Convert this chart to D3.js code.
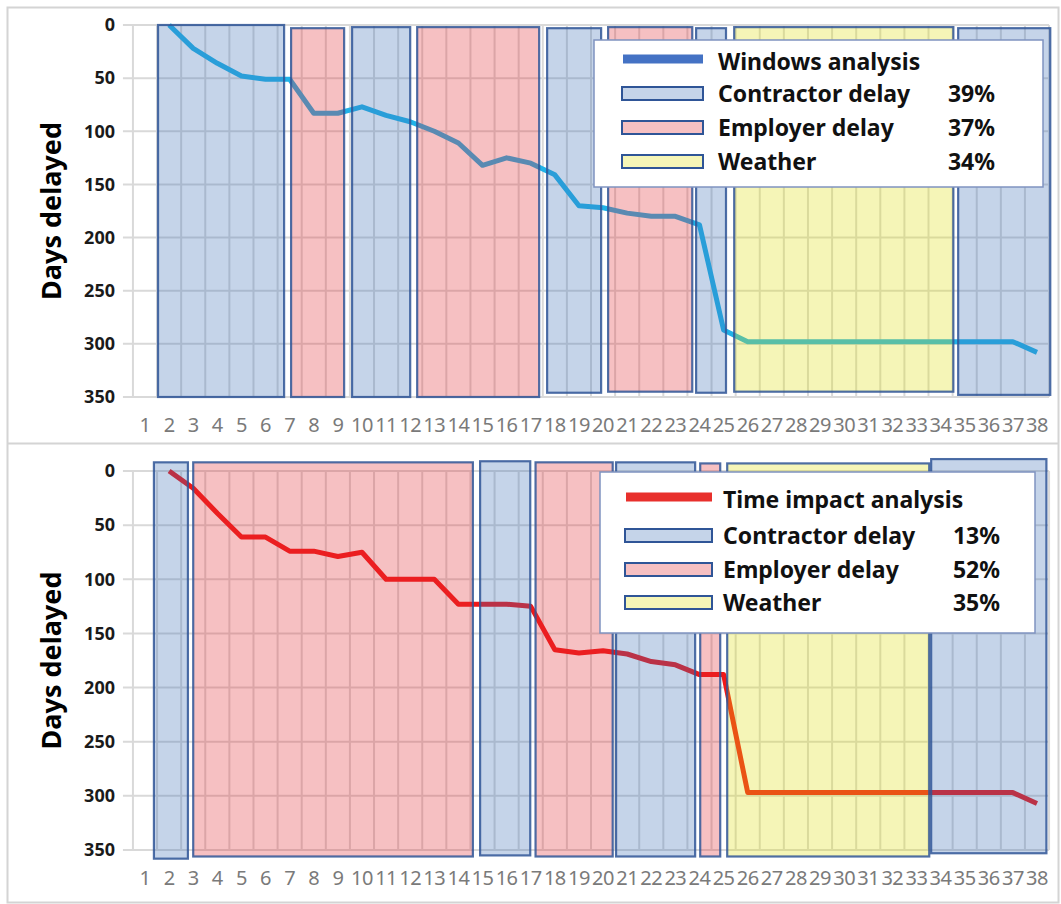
<!DOCTYPE html>
<html>
<head>
<meta charset="utf-8">
<script src="https://cdn.jsdelivr.net/npm/d3@7"></script>
<style>
  body { margin: 0; background: #fff; }
  svg { display: block; font-family: "Noto Sans", "Open Sans", sans-serif; }
</style>
</head>
<body>
<div id="chart"></div>
<script>
// ---- data ----
const categories = [1, 2, 3, 4, 5, 6, 7, 8, 9, 10, 11, 12, 13, 14, 15, 16, 17, 18, 19,
    20, 21, 22, 23, 24, 25, 26, 27, 28, 29, 30, 31, 32, 33, 34, 35, 36, 37, 38];
const yTicks = [0, 50, 100, 150, 200, 250, 300, 350];

// cumulative days delayed, one value per category (null = no point)
const windowsDays = [null, 0, 22, 36, 48, 51, 51, 83, 83, 77, 85, 91, 100, 111, 132, 125, 130,
    141, 170, 172, 177, 180, 180, 188, 287, 298, 298, 298, 298, 298, 298, 298, 298, 298, 298,
    298, 298, 308];
const timeImpactDays = [null, 0, 16, 39, 61, 61, 74, 74, 79, 75, 100, 100, 100, 123, 123, 123,
    125, 165, 168, 166, 169, 176, 179, 188, 188, 297, 297, 297, 297, 297, 297, 297, 297, 297,
    297, 297, 297, 307];

// delay windows: [cause, from category, to category, top days, bottom days]
const windowsBlocks = [
    ["contractor", 1.54, 6.77, 0, 350],
    ["employer", 7.06, 9.26, 3, 350],
    ["contractor", 9.59, 12.0, 2, 350],
    ["employer", 12.29, 17.35, 2, 350],
    ["contractor", 17.68, 19.92, 3, 346],
    ["employer", 20.21, 23.7, 2, 345],
    ["contractor", 23.86, 25.1, 3, 346],
    ["weather", 25.44, 34.53, 2, 345],
    ["contractor", 34.73, 38.55, 3, 348]
];
const timeImpactBlocks = [
    ["contractor", 1.37, 2.78, -8, 358],
    ["employer", 3.0, 14.6, -8, 356],
    ["contractor", 14.9, 16.98, -9, 355],
    ["employer", 17.2, 20.4, -8, 356],
    ["contractor", 20.54, 23.82, -8, 356],
    ["employer", 24.03, 24.86, -7, 356],
    ["weather", 25.15, 33.53, -7, 356],
    ["contractor", 33.61, 38.39, -11, 353]
];

const causeLabels = ["Contractor delay", "Employer delay", "Weather"];
const causeKeys = ["contractor", "employer", "weather"];
const windowsShares = ["39%", "37%", "34%"];
const timeImpactShares = ["13%", "52%", "35%"];

// ---- styling ----
const W = 1061, H = 904;
const FILL = { contractor: "#3e70b6", employer: "#e12d34", weather: "#dede12" };
const FILL_OPACITY = 0.3;
const BLOCK_STROKE = "#2f5597";

const svg = d3.select("#chart").append("svg")
    .attr("width", W)
    .attr("height", H);

// outer frame and panel separator
svg.append("rect")
    .attr("x", 7.5).attr("y", 7.5)
    .attr("width", 1051).attr("height", 895)
    .attr("fill", "none")
    .attr("stroke", "#d4d4d4")
    .attr("stroke-width", 2);
svg.append("line")
    .attr("x1", 7).attr("x2", 1058)
    .attr("y1", 443.5).attr("y2", 443.5)
    .attr("stroke", "#d4d4d4")
    .attr("stroke-width", 2);

const x = d3.scaleLinear().domain([1, 38]).range([145, 1037]);

function drawPanel(opts) {
    const y = d3.scaleLinear().domain([0, 350]).range([opts.y0, opts.y1]);
    const g = svg.append("g");
    const left = x(0.5), right = x(38.5);

    // grid
    g.append("g")
        .selectAll("line")
        .data(yTicks)
        .enter()
        .append("line")
        .attr("x1", left - 10).attr("x2", right)
        .attr("y1", d => y(d)).attr("y2", d => y(d))
        .attr("stroke", "#d9d9d9").attr("stroke-width", 2);

    g.append("g")
        .selectAll("line")
        .data(categories.concat([0]))
        .enter()
        .append("line")
        .attr("x1", d => x(d + 0.5)).attr("x2", d => x(d + 0.5))
        .attr("y1", y(0)).attr("y2", y(350))
        .attr("stroke", "#d9d9d9").attr("stroke-width", 2);

    // y axis labels
    g.append("g")
        .selectAll("text")
        .data(yTicks)
        .enter()
        .append("text")
        .attr("x", 115)
        .attr("y", d => y(d))
        .attr("dy", "0.35em")
        .attr("text-anchor", "end")
        .attr("font-size", 18)
        .attr("font-weight", "bold")
        .attr("fill", "#1a1a1a")
        .text(d => d);

    g.append("text")
        .attr("transform", `translate(61,${(y(0) + y(350)) / 2}) rotate(-90)`)
        .attr("text-anchor", "middle")
        .attr("font-size", 27)
        .attr("font-weight", "bold")
        .attr("fill", "#000")
        .text("Days delayed");

    // x axis labels
    g.append("g")
        .selectAll("text")
        .data(categories)
        .enter()
        .append("text")
        .attr("x", d => x(d))
        .attr("y", y(350) + 28)
        .attr("dy", "0.35em")
        .attr("text-anchor", "middle")
        .attr("font-size", 20)
        .attr("letter-spacing", -0.5)
        .attr("fill", "#7a7a7a")
        .text(d => d);

    // the line sits beneath the translucent windows
    const line = d3.line()
        .defined(d => d[1] !== null)
        .x(d => x(d[0]))
        .y(d => y(d[1]));
    g.append("path")
        .datum(categories.map((c, i) => [c, opts.days[i]]))
        .attr("fill", "none")
        .attr("stroke", opts.lineColor)
        .attr("stroke-width", 5)
        .attr("stroke-linejoin", "round")
        .attr("d", line);

    g.append("g")
        .selectAll("rect")
        .data(opts.blocks)
        .enter()
        .append("rect")
        .attr("x", d => x(d[1]))
        .attr("y", d => y(d[3]))
        .attr("width", d => x(d[2]) - x(d[1]))
        .attr("height", d => y(d[4]) - y(d[3]))
        .attr("fill", d => FILL[d[0]])
        .attr("fill-opacity", FILL_OPACITY)
        .attr("stroke", BLOCK_STROKE)
        .attr("stroke-opacity", 0.85)
        .attr("stroke-width", 2.2);

    // legend
    const L = opts.legend;
    const lg = g.append("g");
    lg.append("rect")
        .attr("x", L.x).attr("y", L.y)
        .attr("width", L.w).attr("height", L.h)
        .attr("fill", "#fff")
        .attr("stroke", "#7f93c0")
        .attr("stroke-width", 1.5);

    lg.append("line")
        .attr("x1", L.swX + 1).attr("x2", L.swX + L.swW)
        .attr("y1", L.rows[0] - 3).attr("y2", L.rows[0] - 3)
        .attr("stroke", opts.legendLine)
        .attr("stroke-width", 9);

    lg.append("text")
        .attr("x", L.textX)
        .attr("y", L.rows[0])
        .attr("dy", "0.35em")
        .attr("font-size", 23)
        .attr("font-weight", "bold")
        .attr("fill", "#111")
        .text(opts.title);

    causeKeys.forEach((k, i) => {
        const cy = L.rows[i + 1];
        lg.append("rect")
            .attr("x", L.swX).attr("y", cy - 7)
            .attr("width", L.swW).attr("height", 13)
            .attr("fill", FILL[k])
            .attr("fill-opacity", FILL_OPACITY)
            .attr("stroke", BLOCK_STROKE)
            .attr("stroke-width", 2);
        lg.append("text")
            .attr("x", L.textX)
            .attr("y", cy)
            .attr("dy", "0.35em")
            .attr("font-size", 23)
            .attr("font-weight", "bold")
            .attr("fill", "#111")
            .text(causeLabels[i]);
        lg.append("text")
            .attr("x", L.pctX)
            .attr("y", cy)
            .attr("dy", "0.35em")
            .attr("text-anchor", "end")
            .attr("font-size", 23)
            .attr("font-weight", "bold")
            .attr("fill", "#111")
            .text(opts.shares[i]);
    });
}

drawPanel({
    y0: 25, y1: 397,
    days: windowsDays,
    blocks: windowsBlocks,
    lineColor: "#20b2e8",
    legendLine: "#4472c4",
    title: "Windows analysis",
    shares: windowsShares,
    legend: { x: 594, y: 40, w: 449, h: 147, swX: 622, swW: 81, textX: 718, pctX: 995,
        rows: [62, 94, 128, 162] }
});

drawPanel({
    y0: 471, y1: 850,
    days: timeImpactDays,
    blocks: timeImpactBlocks,
    lineColor: "#f01818",
    legendLine: "#e8302c",
    title: "Time impact analysis",
    shares: timeImpactShares,
    legend: { x: 600, y: 472, w: 435, h: 161, swX: 625, swW: 87, textX: 723, pctX: 1000,
        rows: [500, 536, 570, 603] }
});
</script>
</body>
</html>
